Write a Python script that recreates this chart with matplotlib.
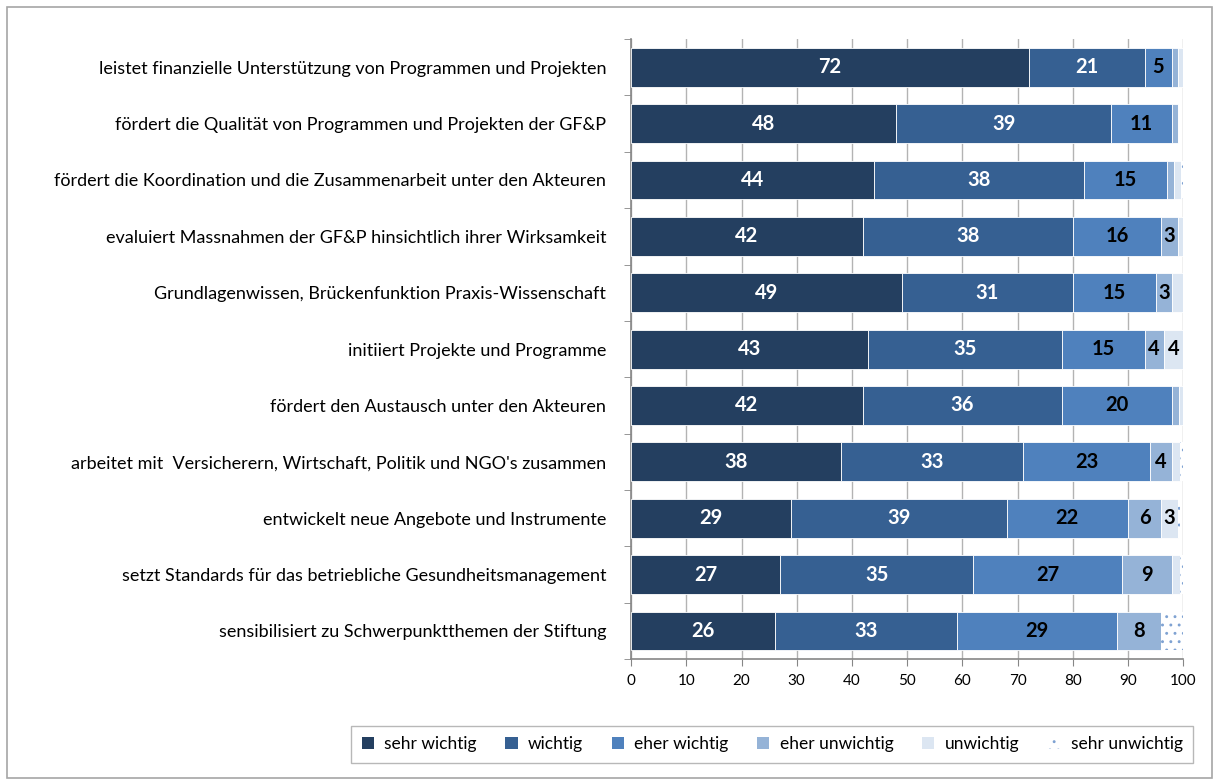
import numpy as np
import matplotlib
matplotlib.use("Agg")
import matplotlib.pyplot as plt
from matplotlib.patches import Rectangle, Patch

plt.rcParams['font.family'] = ['Lato', 'DejaVu Sans']
plt.rcParams['hatch.linewidth'] = 0.9

categories = [
    "leistet finanzielle Unterstützung von Programmen und Projekten",
    "fördert die Qualität von Programmen und Projekten der GF&P",
    "fördert die Koordination und die Zusammenarbeit unter den Akteuren",
    "evaluiert Massnahmen der GF&P hinsichtlich ihrer Wirksamkeit",
    "Grundlagenwissen, Brückenfunktion Praxis-Wissenschaft",
    "initiiert Projekte und Programme",
    "fördert den Austausch unter den Akteuren",
    "arbeitet mit  Versicherern, Wirtschaft, Politik und NGO's zusammen",
    "entwickelt neue Angebote und Instrumente",
    "setzt Standards für das betriebliche Gesundheitsmanagement",
    "sensibilisiert zu Schwerpunktthemen der Stiftung",
]

sehr_wichtig = [72, 48, 44, 42, 49, 43, 42, 38, 29, 27, 26]
wichtig = [21, 39, 38, 38, 31, 35, 36, 33, 39, 35, 33]
eher_wichtig = [5, 11, 15, 16, 15, 15, 20, 23, 22, 27, 29]
eher_unwichtig = [1, 1, 1.3, 3, 3, 3.5, 1.2, 4, 6, 9, 8]
unwichtig = [1, 0, 1.3, 1, 2, 3.5, 0.8, 1.5, 3, 1.5, 0]
sehr_unwichtig = [0, 0, 0.4, 0, 0, 0, 0, 0.5, 0.5, 0.5, 4]

series_names = ["sehr wichtig", "wichtig", "eher wichtig",
                "eher unwichtig", "unwichtig", "sehr unwichtig"]
series_values = [sehr_wichtig, wichtig, eher_wichtig,
                 eher_unwichtig, unwichtig, sehr_unwichtig]
colors = ["#243F60", "#366092", "#4F81BD", "#95B3D7", "#DCE6F2", "#FFFFFF"]
label_colors = ["white", "white", "black", "black", "black", "black"]
x_ticks = list(range(0, 101, 10))

fig = plt.figure(figsize=(12.16, 7.81), dpi=100)
ax = fig.add_axes([0.519, 0.156, 0.454, 0.794])

y = np.arange(len(categories))
left = np.zeros(len(categories))
bar_h = 0.69
handles = []
for name, vals, col, lc in zip(series_names, series_values, colors, label_colors):
    vals = np.array(vals, dtype=float)
    if name == "sehr unwichtig":
        ax.barh(y, vals, left=left, height=bar_h, color="white",
                edgecolor="#7FA2D2", linewidth=0, hatch="..", zorder=3)
        handles.append(Patch(facecolor="white", edgecolor="#7FA2D2",
                             linewidth=0, hatch="..", label=name))
    else:
        ax.barh(y, vals, left=left, height=bar_h, color=col,
                edgecolor="white", linewidth=0.6, zorder=3)
        handles.append(Patch(facecolor=col, edgecolor="none", label=name))
        for yi, l, v in zip(y, left, vals):
            if v >= 2.5:
                ax.text(l + v / 2, yi, f"{v:.0f}", ha="center", va="center",
                        color=lc, fontsize=14.5, fontweight="bold", zorder=4)
    left += vals

ax.set_xlim(0, 100)
ax.set_ylim(len(categories) - 0.5, -0.5)
ax.set_xticks(x_ticks)
ax.set_xticklabels([str(t) for t in x_ticks], fontsize=11)
ax.set_yticks(y)
ax.set_yticklabels(categories, fontsize=13)
ax.set_yticks(np.arange(-0.5, len(categories), 1), minor=True)
ax.tick_params(axis="y", which="major", length=0, pad=18)
ax.tick_params(axis="y", which="minor", length=5, color="#868686", direction="out")
ax.tick_params(axis="x", length=5, color="#868686", direction="out", pad=6)

ax.grid(axis="x", color="#B3B3B3", linewidth=1, zorder=0)
ax.set_axisbelow(True)
for s in ["top", "right"]:
    ax.spines[s].set_visible(False)
for s in ["left", "bottom"]:
    ax.spines[s].set_color("#868686")
    ax.spines[s].set_linewidth(1.2)

leg = fig.legend(handles=handles, loc="center", ncol=6,
                 bbox_to_anchor=(0.635, 0.047), fontsize=12.5,
                 handlelength=0.7, handleheight=0.7, handletextpad=0.6,
                 columnspacing=1.65, frameon=True, fancybox=False,
                 borderpad=0.6)
leg.get_frame().set_edgecolor("#A6A6A6")
leg.get_frame().set_linewidth(1)

fig.patches.append(Rectangle((0.006, 0.004), 0.991, 0.987, transform=fig.transFigure,
                             fill=False, edgecolor="#A6A6A6", linewidth=1.2))

fig.savefig("out.png", dpi=100, facecolor="white")
